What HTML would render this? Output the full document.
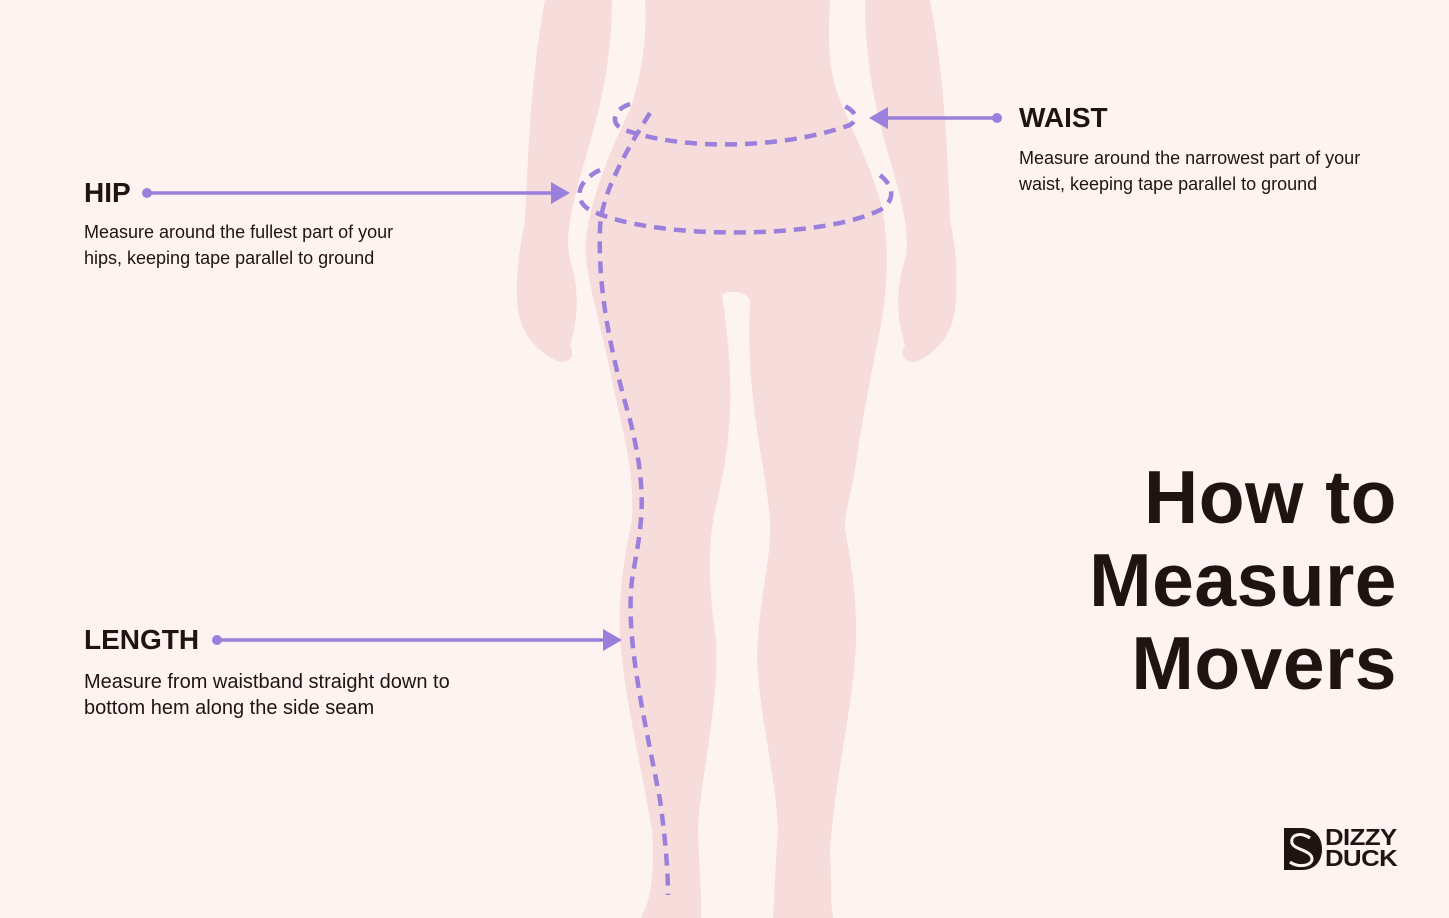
<!DOCTYPE html>
<html><head><meta charset="utf-8"><style>
html,body{margin:0;padding:0;background:#fdf3f1;}
body{width:1449px;height:918px;position:relative;overflow:hidden;font-family:"Liberation Sans",sans-serif;color:#1e1411;}
.h{position:absolute;font-weight:bold;font-size:28px;letter-spacing:0px;}
.p{position:absolute;font-size:18px;line-height:26px;}
.title{position:absolute;right:52px;top:456px;text-align:right;font-weight:bold;font-size:75px;line-height:83px;letter-spacing:0.5px;}
</style></head><body>
<svg width="1449" height="918" style="position:absolute;left:0;top:0">
<g fill="#f6dddb">
<path d="M545 0 L612 0 C612 60 600 110 585 160 C570 210 565 240 570 260 C580 290 578 320 570 345 C575 355 572 362 560 362 C535 352 518 330 517 300 C516 260 522 240 525 220 C528 160 530 80 545 0 Z"/>
<path d="M865 0 L930 0 C945 80 948 160 950 220 C954 240 958 260 956 300 C955 330 940 352 915 362 C903 362 900 355 905 345 C897 320 895 290 905 260 C910 240 905 210 890 160 C875 110 865 60 865 0 Z"/>
<path d="M645 0 L830 0 C828 40 828 70 840 100 C852 130 870 165 880 200 C890 240 888 290 880 330 C870 380 862 420 855 470 C850 500 845 510 845 530 C855 580 858 620 855 660 C850 720 835 780 830 850 C832 880 830 900 833 918 L773 918 C775 890 775 870 778 830 C775 770 760 720 757 660 C758 600 772 560 770 520 C765 460 745 400 750 300 C745 290 728 290 722 295 C735 380 733 440 715 510 C705 560 712 610 716 640 C720 700 700 780 698 830 C700 880 702 900 701 918 L641 918 C650 900 655 880 652 830 C640 760 625 700 620 640 C618 590 625 555 632 520 C635 470 622 430 612 380 C600 320 583 270 586 240 C590 200 610 150 630 110 C640 80 648 40 645 0 Z"/>
</g>
<g fill="none" stroke="#9b7fdc" stroke-width="4.5" stroke-dasharray="12 8">
<path d="M630 104 C612 110 610 125 625 130 C680 150 780 150 850 125 C860 118 855 110 840 104"/>
<path d="M600 170 C578 180 572 200 590 210 C650 240 820 240 880 210 C900 198 890 180 875 172"/>
<path d="M650 113 C620 160 600 200 600 230 C598 290 610 350 630 420 C650 500 640 530 632 580 C625 640 645 720 660 800 C667 850 668 880 668 895"/>
</g>
<g stroke="#9b7fdc" stroke-width="3.5" fill="#9b7fdc">
<line x1="147" y1="193" x2="555" y2="193"/><circle cx="147" cy="193" r="5" stroke="none"/>
<polygon points="551,182 570,193 551,204" stroke="none"/>
<line x1="885" y1="118" x2="997" y2="118"/><circle cx="997" cy="118" r="5" stroke="none"/>
<polygon points="888,107 869,118 888,129" stroke="none"/>
<line x1="217" y1="640" x2="605" y2="640"/><circle cx="217" cy="640" r="5" stroke="none"/>
<polygon points="603,629 622,640 603,651" stroke="none"/>
</g>
<g>
<path d="M1284 828 L1302 828 C1315 828 1322 838 1322 849 C1322 861 1315 870 1302 870 L1284 870 Z" fill="#1e1411"/>
<path d="M1310 838 C1302 832 1290 834 1292 843 C1294 850 1312 850 1312 859 C1312 866 1298 868 1290 862" fill="none" stroke="#fdf3f1" stroke-width="3"/>
</g>
</svg>
<div class="h" style="left:84px;top:177px">HIP</div>
<div class="p" style="left:84px;top:219px">Measure around the fullest part of your<br>hips, keeping tape parallel to ground</div>
<div class="h" style="left:1019px;top:102px">WAIST</div>
<div class="p" style="left:1019px;top:145px">Measure around the narrowest part of your<br>waist, keeping tape parallel to ground</div>
<div class="h" style="left:84px;top:624px">LENGTH</div>
<div class="p" style="left:84px;top:669px;font-size:20px">Measure from waistband straight down to<br>bottom hem along the side seam</div>
<div class="title">How to<br>Measure<br>Movers</div>
<div style="position:absolute;left:1325px;top:827px;font-weight:bold;font-size:23px;line-height:21px;letter-spacing:-0.5px;transform:scaleX(1.12);transform-origin:left top">DIZZY<br>DUCK</div>
</body></html>
